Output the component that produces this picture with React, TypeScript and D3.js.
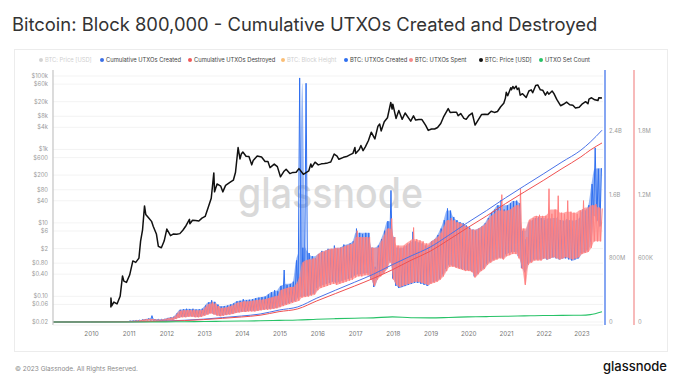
import React from "react";
import * as d3 from "d3";

// ---- data ----
const yearTicks = [2010, 2011, 2012, 2013, 2014, 2015, 2016, 2017, 2018, 2019, 2020, 2021, 2022, 2023];

const priceTicks = [100000, 60000, 20000, 8000, 4000, 1000, 600, 200, 80, 40, 10, 6, 2, 0.8, 0.4, 0.1, 0.06, 0.02];
const priceTickLabels = ["$100k", "$60k", "$20k", "$8k", "$4k", "$1k", "$600", "$200", "$80", "$40", "$10", "$6", "$2", "$0.80", "$0.40", "$0.10", "$0.06", "$0.02"];

const cumTicks = [0, 0.8e9, 1.6e9, 2.4e9];
const cumTickLabels = ["0", "800M", "1.6B", "2.4B"];
const dailyTicks = [0, 6e5, 1.2e6, 1.8e6];
const dailyTickLabels = ["0", "600K", "1.2M", "1.8M"];

const legendLabels = ["BTC: Price [USD]", "Cumulative UTXOs Created", "Cumulative UTXOs Destroyed", "BTC: Block Height", "BTC: UTXOs Created", "BTC: UTXOs Spent", "BTC: Price [USD]", "UTXO Set Count"];
const legendColors = ["#b5b5b5", "#3b6fe6", "#f0595a", "#f7931a", "#2f6ff0", "#f58a8a", "#111111", "#27c267"];
const legendDisabled = [true, false, false, true, false, false, false, false];

const priceDates = [
  "2010-07-17", "2010-07-18", "2010-07-25", "2010-08-15", "2010-09-15", "2010-10-15", "2010-11-07", "2010-11-20", "2010-12-15",
  "2011-01-15", "2011-02-15", "2011-03-15", "2011-04-15", "2011-05-01", "2011-05-20", "2011-06-08", "2011-06-20", "2011-07-15", "2011-08-15", "2011-09-01", "2011-10-01", "2011-10-20", "2011-11-18", "2011-12-15",
  "2012-01-10", "2012-02-15", "2012-03-15", "2012-04-15", "2012-05-15", "2012-06-15", "2012-07-15", "2012-08-16", "2012-08-20", "2012-09-15", "2012-10-15", "2012-11-15", "2012-12-15",
  "2013-01-15", "2013-02-15", "2013-03-15", "2013-04-09", "2013-04-16", "2013-05-10", "2013-06-15", "2013-07-05", "2013-08-01", "2013-09-15", "2013-10-15", "2013-11-05", "2013-11-30", "2013-12-18", "2013-12-31",
  "2014-01-15", "2014-02-15", "2014-03-15", "2014-04-11", "2014-04-25", "2014-06-03", "2014-07-15", "2014-08-18", "2014-09-15", "2014-10-05", "2014-11-15", "2014-12-15",
  "2015-01-14", "2015-02-15", "2015-03-10", "2015-04-15", "2015-05-15", "2015-06-15", "2015-07-12", "2015-08-24", "2015-09-15", "2015-10-15", "2015-11-04", "2015-11-15", "2015-12-15",
  "2016-01-15", "2016-02-15", "2016-03-15", "2016-04-15", "2016-05-15", "2016-06-17", "2016-07-15", "2016-08-02", "2016-09-15", "2016-10-15", "2016-11-15", "2016-12-15",
  "2017-01-04", "2017-01-11", "2017-02-15", "2017-03-03", "2017-03-24", "2017-04-15", "2017-05-15", "2017-06-11", "2017-07-16", "2017-08-15", "2017-09-01", "2017-09-15", "2017-10-15", "2017-11-15", "2017-12-17", "2017-12-30",
  "2018-01-06", "2018-02-06", "2018-03-05", "2018-04-06", "2018-05-05", "2018-06-28", "2018-07-25", "2018-08-15", "2018-09-15", "2018-10-15", "2018-11-20", "2018-12-15",
  "2019-01-15", "2019-02-15", "2019-03-15", "2019-04-15", "2019-05-15", "2019-06-26", "2019-07-15", "2019-08-15", "2019-09-15", "2019-09-30", "2019-10-26", "2019-11-25", "2019-12-17",
  "2020-01-15", "2020-02-13", "2020-03-12", "2020-04-15", "2020-05-15", "2020-06-15", "2020-07-15", "2020-08-15", "2020-09-15", "2020-10-15", "2020-11-15", "2020-12-15", "2020-12-31",
  "2021-01-08", "2021-01-22", "2021-02-21", "2021-02-28", "2021-03-13", "2021-03-25", "2021-04-13", "2021-04-25", "2021-05-10", "2021-05-23", "2021-06-15", "2021-07-20", "2021-08-15", "2021-09-07", "2021-09-21", "2021-10-20", "2021-11-09", "2021-12-04", "2021-12-27",
  "2022-01-22", "2022-02-10", "2022-02-24", "2022-03-28", "2022-04-15", "2022-05-12", "2022-06-18", "2022-07-15", "2022-08-15", "2022-09-15", "2022-10-15", "2022-11-09", "2022-12-15",
  "2023-01-15", "2023-02-15", "2023-03-10", "2023-03-20", "2023-04-14", "2023-05-15", "2023-06-15", "2023-06-23", "2023-07-24",
];
const priceUsd = [
  0.05, 0.09, 0.055, 0.07, 0.062, 0.1, 0.36, 0.26, 0.24,
  0.38, 0.92, 0.84, 1.1, 3.2, 6.5, 29, 17, 14, 11, 8, 5, 2.3, 2.1, 3.2,
  6.8, 4.5, 5.0, 4.9, 5.1, 6.4, 8.5, 12.5, 9.5, 11.8, 11.6, 11.2, 13.5,
  15, 27, 47, 230, 70, 115, 100, 70, 105, 128, 145, 240, 1130, 550, 750,
  850, 650, 640, 380, 500, 660, 620, 470, 470, 320, 400, 340,
  180, 250, 290, 220, 237, 240, 300, 210, 230, 260, 400, 330, 450,
  380, 405, 415, 430, 455, 750, 660, 540, 610, 640, 710, 780,
  1130, 780, 1000, 1280, 930, 1180, 1750, 2950, 1930, 4300, 4900, 3200, 5700, 7300, 19100, 12600,
  17100, 7000, 11500, 6600, 9800, 5900, 8200, 6300, 6500, 6500, 4500, 3300,
  3600, 3600, 3950, 5100, 8000, 12900, 10200, 10300, 10300, 8300, 9500, 7000, 6600,
  8500, 9800, 4600, 6600, 9000, 9100, 9000, 11000, 10200, 10800, 14500, 18000, 25000,
  36000, 29000, 48000, 42000, 52000, 45000, 53000, 43000, 47000, 30000, 33000, 26000, 39000, 42000, 35000, 55000, 57000, 42000, 41000,
  30000, 37000, 32000, 39000, 33000, 23000, 15500, 17000, 19500, 16500, 16000, 13500, 14000,
  17500, 20000, 17500, 23500, 25500, 22500, 21500, 25500, 25000,
];

// cumulative series, billions
const cumDates = [
  "2009-01-03", "2010-01-01", "2011-01-01", "2012-01-01", "2012-07-01", "2013-01-01", "2013-07-01", "2014-01-01", "2014-07-01",
  "2015-01-01", "2015-07-01", "2016-01-01", "2016-07-01", "2017-01-01", "2017-07-01", "2018-01-01", "2018-07-01", "2019-01-01",
  "2019-07-01", "2020-01-01", "2020-07-01", "2021-01-01", "2021-07-01", "2022-01-01", "2022-07-01", "2023-01-01", "2023-04-01", "2023-07-24",
];
const cumCreatedB = [0, 0.0001, 0.002, 0.012, 0.022, 0.036, 0.055, 0.075, 0.1, 0.15, 0.19, 0.3, 0.4, 0.5, 0.6, 0.72, 0.83, 0.94, 1.09, 1.25, 1.4, 1.56, 1.71, 1.86, 2.01, 2.16, 2.26, 2.41];
const cumDestroyedB = [0, 0.00007, 0.0017, 0.01, 0.018, 0.03, 0.046, 0.063, 0.085, 0.13, 0.165, 0.265, 0.358, 0.452, 0.548, 0.656, 0.776, 0.888, 1.033, 1.186, 1.332, 1.488, 1.633, 1.778, 1.927, 2.075, 2.16, 2.25];
const utxoSetB = [0, 0.00003, 0.0003, 0.002, 0.004, 0.006, 0.009, 0.012, 0.015, 0.02, 0.025, 0.035, 0.042, 0.048, 0.052, 0.064, 0.054, 0.052, 0.057, 0.064, 0.068, 0.072, 0.077, 0.082, 0.083, 0.085, 0.093, 0.13];

// daily series: monthly low / high, thousands, from Jan 2011
const dailyStartYear = 2011;
const spentLowK = [
  3, 4, 5, 6, 8, 10, 12, 12, 10, 10, 10, 12,
  15, 18, 20, 30, 40, 45, 45, 50, 50, 45, 45, 50,
  60, 70, 80, 70, 60, 55, 60, 65, 70, 75, 85, 90,
  95, 95, 100, 100, 100, 105, 110, 115, 115, 120, 125, 130,
  140, 150, 160, 170, 180, 190, 200, 230, 235, 240, 250, 260,
  300, 320, 330, 340, 350, 360, 350, 360, 370, 380, 390, 400,
  420, 430, 430, 440, 440, 400, 340, 400, 430, 460, 500, 560,
  400, 350, 330, 340, 350, 360, 370, 380, 380, 370, 360, 350,
  360, 370, 380, 400, 430, 480, 520, 520, 510, 500, 490, 480,
  480, 470, 420, 450, 480, 500, 540, 560, 580, 590, 600, 590,
  620, 630, 640, 640, 600, 500, 350, 540, 560, 580, 580, 580,
  600, 590, 600, 610, 600, 590, 600, 610, 600, 590, 600, 610,
  640, 650, 660, 700, 760, 760, 760,
];
const spentHighK = [
  8, 10, 12, 15, 20, 25, 30, 28, 25, 22, 22, 25,
  35, 40, 45, 75, 105, 110, 112, 110, 115, 108, 110, 112,
  140, 170, 190, 175, 150, 130, 135, 140, 150, 160, 180, 185,
  195, 190, 195, 200, 205, 210, 210, 215, 225, 230, 240, 245,
  300, 310, 320, 330, 330, 360, 420, 560, 580, 590, 600, 590,
  640, 660, 670, 680, 690, 700, 690, 700, 710, 720, 730, 740,
  860, 800, 790, 800, 800, 700, 500, 700, 760, 820, 880, 975,
  800, 720, 700, 720, 740, 760, 890, 780, 770, 760, 740, 720,
  760, 780, 800, 840, 900, 960, 980, 960, 940, 930, 920, 900,
  880, 870, 860, 880, 900, 920, 960, 1000, 1020, 1050, 1200, 1040,
  1050, 1060, 1080, 1100, 1256, 880, 800, 960, 980, 1000, 1010, 1000,
  1000, 1256, 1020, 1060, 1190, 1030, 1020, 1144, 1040, 1030, 1020, 1050,
  1144, 1060, 1080, 1100, 1110, 1080, 1070,
];
const createdLowK = [
  4, 5, 6, 7, 9, 11, 13, 13, 11, 11, 11, 13,
  17, 20, 22, 33, 45, 50, 48, 55, 55, 50, 48, 55,
  65, 75, 85, 75, 65, 60, 65, 70, 75, 80, 90, 95,
  100, 100, 105, 105, 105, 110, 115, 120, 125, 125, 130, 135,
  150, 160, 170, 180, 190, 200, 230, 240, 245, 250, 260, 270,
  320, 340, 350, 360, 370, 380, 370, 380, 390, 400, 410, 420,
  440, 450, 450, 460, 460, 410, 330, 410, 440, 470, 510, 580,
  410, 340, 320, 330, 340, 350, 360, 370, 370, 360, 350, 340,
  370, 380, 390, 410, 450, 500, 540, 530, 520, 510, 500, 490,
  490, 480, 430, 460, 490, 510, 550, 570, 590, 600, 610, 600,
  640, 650, 660, 660, 620, 510, 470, 550, 570, 590, 590, 590,
  600, 590, 600, 610, 600, 590, 600, 600, 590, 580, 590, 600,
  650, 660, 680, 760, 1000, 950, 900,
];
const createdHighK = [
  10, 12, 14, 17, 22, 28, 34, 60, 28, 25, 25, 28,
  38, 44, 50, 82, 115, 120, 125, 122, 125, 118, 120, 125,
  155, 185, 205, 190, 165, 145, 150, 155, 165, 175, 195, 200,
  215, 205, 210, 215, 225, 230, 235, 240, 260, 280, 300, 290,
  340, 490, 350, 360, 380, 580, 2300, 700, 2250, 650, 620, 600,
  640, 670, 660, 690, 680, 720, 690, 700, 730, 720, 740, 760,
  880, 840, 830, 840, 840, 700, 520, 720, 780, 860, 950, 1240,
  800, 700, 690, 700, 720, 740, 850, 760, 750, 740, 720, 700,
  760, 780, 820, 880, 960, 1070, 1050, 990, 960, 940, 930, 910,
  890, 870, 860, 880, 900, 930, 980, 1030, 1060, 1100, 1150, 1060,
  1100, 1120, 1140, 1144, 1120, 860, 780, 940, 960, 980, 990, 980,
  960, 980, 970, 980, 990, 960, 950, 970, 960, 950, 960, 980,
  1060, 1050, 1100, 1300, 1641, 1444, 1450,
];

// ---- layout ----
const W = 680;
const H = 392;
const plotL = 53;
const plotR = 603;
const plotT = 70;
const plotB = 325;
const FONT = "Inter, Roboto, 'Noto Sans', sans-serif";

const parse = d3.timeParse("%Y-%m-%d");

const x = d3.scaleTime()
  .domain([new Date(2009, 0, 3), new Date(2023, 6, 24)])
  .range([plotL, 602]);
const yPrice = d3.scaleLog().domain([0.02, 100000]).range([322, 76]);
const yCum = d3.scaleLinear().domain([0, 2.4e9]).range([322, 131]);
const yDaily = d3.scaleLinear().domain([0, 1.8e6]).range([322, 131]);

type P = [Date, number];
type B = [Date, number, number];

// one low and one high per month, on given days
function zigzag(lows: number[], highs: number[], dLow: number, dHigh: number): P[] {
  const pts: P[] = [[new Date(2009, 0, 9), 0]];
  lows.forEach((lo, i) => {
    pts.push([new Date(dailyStartYear, i, dLow), lo * 1000]);
    pts.push([new Date(dailyStartYear, i, dHigh), highs[i] * 1000]);
  });
  return pts;
}

// monthly envelope; the upper edge skips single-month spikes (those stay in the zigzag)
function band(lows: number[], highs: number[]): B[] {
  return lows.map((lo, i) => {
    const hi = d3.median([highs[Math.max(0, i - 1)], highs[i], highs[Math.min(highs.length - 1, i + 1)]]) as number;
    return [new Date(dailyStartYear, i, 13), lo * 1000, Math.max(hi, lo) * 1000];
  });
}

export default function App() {
  const pricePts: P[] = priceDates.map((d, i) => [parse(d) as Date, priceUsd[i]]);
  const cd = cumDates.map((d) => parse(d) as Date);
  const created: P[] = cd.map((d, i) => [d, cumCreatedB[i] * 1e9]);
  const destroyed: P[] = cd.map((d, i) => [d, cumDestroyedB[i] * 1e9]);
  const setCount: P[] = cd.map((d, i) => [d, utxoSetB[i] * 1e9]);

  const priceLine = d3.line<P>().x((d) => x(d[0])).y((d) => yPrice(d[1]));
  const cumLine = d3.line<P>().x((d) => x(d[0])).y((d) => yCum(d[1])).curve(d3.curveMonotoneX);
  const dailyLine = d3.line<P>().x((d) => x(d[0])).y((d) => yDaily(d[1]));
  const dailyArea = d3.area<B>()
    .x((d) => x(d[0]))
    .y0((d) => yDaily(d[1]))
    .y1((d) => yDaily(d[2]))
    .curve(d3.curveMonotoneX);

  const legendX = [41, 102, 190, 283, 346, 411, 481, 541];

  return (
    <svg width={W} height={H} style={{ position: "absolute", left: 0, top: 0, background: "#fff" }} fontFamily={FONT}>
      <defs>
        <clipPath id="plot">
          <rect x={plotL} y={plotT} width={plotR - plotL} height={plotB - plotT} />
        </clipPath>
      </defs>

      <text x={12} y={31} fontSize={18.4} fill="#333">
        Bitcoin: Block 800,000 - Cumulative UTXOs Created and Destroyed
      </text>

      <rect x={14.5} y={49.5} width={653} height={302} fill="#fff" stroke="#ececec" />

      {legendLabels.map((l, i) => (
        <g key={i} transform={`translate(${legendX[i]},60)`}>
          <circle cx={0} cy={0} r={2} fill={legendColors[i]} opacity={legendDisabled[i] ? 0.6 : 1} />
          <text x={4} y={2.2} fontSize={5.8} fill={legendDisabled[i] ? "#d0d0d0" : "#444"}>{l}</text>
        </g>
      ))}

      {/* grid */}
      {priceTicks.map((t, i) => (
        <line key={i} x1={plotL} x2={plotR} y1={yPrice(t)} y2={yPrice(t)} stroke="#f0f0f0" strokeWidth={0.8} />
      ))}

      {/* watermark */}
      <text x={238} y={208} fontSize={42} fontWeight={500} fill="#d9d9d9" textLength={185} lengthAdjust="spacingAndGlyphs">
        glassnode
      </text>

      <g clipPath="url(#plot)">
        <path d={dailyArea(band(createdLowK, createdHighK)) || ""} fill="#2f6ff0" opacity={0.5} />
        <path d={dailyLine(zigzag(createdLowK, createdHighK, 4, 19)) || ""} fill="none" stroke="#2f6ff0" strokeWidth={1} />
        <path d={dailyArea(band(spentLowK, spentHighK)) || ""} fill="#ff8585" opacity={0.7} />
        <path d={dailyLine(zigzag(spentLowK, spentHighK, 11, 26)) || ""} fill="none" stroke="#ff8080" strokeWidth={1} />
        <path d={cumLine(created) || ""} fill="none" stroke="#4a72e8" strokeWidth={1} />
        <path d={cumLine(destroyed) || ""} fill="none" stroke="#f05050" strokeWidth={1} />
        <path d={cumLine(setCount) || ""} fill="none" stroke="#27c267" strokeWidth={1.1} />
        <path d={priceLine(pricePts) || ""} fill="none" stroke="#111" strokeWidth={1.5} strokeLinejoin="round" />
      </g>

      {/* left axis */}
      <line x1={plotL} x2={plotL} y1={plotT} y2={plotB} stroke="#c4c4c4" strokeWidth={1.2} />
      <line x1={plotL} x2={plotR} y1={plotB} y2={plotB} stroke="#ececec" strokeWidth={0.8} />
      {priceTicks.map((t, i) => (
        <text key={i} x={48} y={yPrice(t) + 2} fontSize={5.8} fill="#9a9a9a" textAnchor="end">{priceTickLabels[i]}</text>
      ))}

      {/* right axes */}
      <line x1={605} x2={605} y1={plotT} y2={plotB} stroke="#86a6f2" strokeWidth={2} />
      {cumTicks.map((t, i) => (
        <text key={i} x={609} y={yCum(t) + 2} fontSize={5.8} fill="#9a9a9a">{cumTickLabels[i]}</text>
      ))}
      <line x1={634} x2={634} y1={plotT} y2={plotB} stroke="#f5a3a3" strokeWidth={1.5} />
      {dailyTicks.map((t, i) => (
        <text key={i} x={638} y={yDaily(t) + 2} fontSize={5.8} fill="#9a9a9a">{dailyTickLabels[i]}</text>
      ))}

      {/* x axis */}
      {yearTicks.map((yr) => (
        <text key={yr} x={x(new Date(yr, 0, 1)) + 1} y={336} fontSize={6.3} fill="#777" textAnchor="middle">{yr}</text>
      ))}

      <text x={15} y={371} fontSize={6.5} fill="#8a8a8a">© 2023 Glassnode. All Rights Reserved.</text>
      <text x={667} y={371} fontSize={13} fontWeight={500} fill="#111" textAnchor="end">glassnode</text>
    </svg>
  );
}
